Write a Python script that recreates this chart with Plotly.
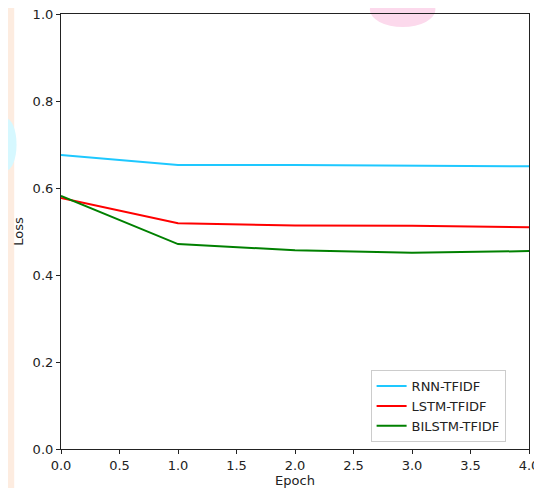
import plotly.graph_objects as go

epochs = [0, 1, 2, 3, 4]
rnn_tfidf = [0.676, 0.653, 0.653, 0.651, 0.650]
lstm_tfidf = [0.577, 0.519, 0.514, 0.513, 0.510]
bilstm_tfidf = [0.582, 0.471, 0.457, 0.451, 0.455]

series = [
    ("RNN-TFIDF", rnn_tfidf, "#1ec8ff"),
    ("LSTM-TFIDF", lstm_tfidf, "#ff0000"),
    ("BILSTM-TFIDF", bilstm_tfidf, "#008000"),
]

fig = go.Figure()
for name, vals, col in series:
    fig.add_trace(go.Scatter(x=epochs, y=vals, mode="lines", name=name,
                             line=dict(color=col, width=2)))

font = dict(family="DejaVu Sans", size=13, color="#222")
axis_common = dict(
    showgrid=False, zeroline=False, showline=True, linecolor="#222", linewidth=1.2,
    mirror=True, ticks="outside", ticklen=4, tickwidth=1, tickcolor="#222",
    tickfont=font, automargin=False, ticklabeloverflow="allow",
)
fig.update_layout(
    width=534, height=480,
    margin=dict(l=53, r=13, t=6, b=39),
    paper_bgcolor="white", plot_bgcolor="white",
    font=font,
    xaxis=dict(range=[0, 4], dtick=0.5, tickformat=".1f",
               title=dict(text="Epoch", font=font, standoff=4), **axis_common),
    yaxis=dict(range=[0, 1], dtick=0.2, tickformat=".1f",
               title=dict(text="Loss", font=font, standoff=6), **axis_common),
    legend=dict(x=0.95, y=0.016, xanchor="right", yanchor="bottom",
                bgcolor="rgba(255,255,255,0.85)", bordercolor="#cccccc", borderwidth=1,
                font=font, itemwidth=30, tracegroupgap=2),
    showlegend=True,
)

# faint watermark-like background shapes outside the plot area
fig.add_shape(type="rect", xref="paper", yref="paper", x0=-0.12, x1=-0.1, y0=-0.1, y1=1.02,
              fillcolor="#fdece0", line=dict(width=0), layer="below")
fig.add_shape(type="circle", xref="paper", yref="paper", x0=-0.14, x1=-0.095, y0=0.64, y1=0.76,
              fillcolor="#d6f8ff", line=dict(width=0), layer="below")
fig.add_shape(type="circle", xref="paper", yref="paper", x0=0.66, x1=0.8, y0=0.97, y1=1.05,
              fillcolor="#fcd9ec", line=dict(width=0), layer="below")

fig.write_html("out.html")
